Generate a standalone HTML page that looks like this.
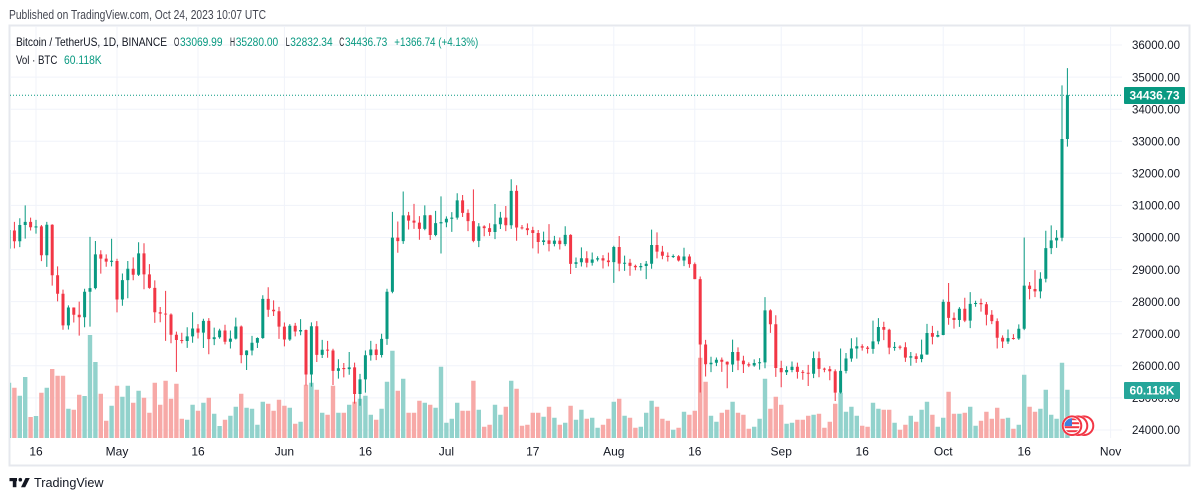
<!DOCTYPE html>
<html><head><meta charset="utf-8"><style>
html,body{margin:0;padding:0;background:#fff;width:1200px;height:501px;overflow:hidden}
svg{display:block}
text{font-family:"Liberation Sans",Arial,sans-serif}
.ws{vector-effect:non-scaling-stroke;fill:none;stroke-width:1}
.bd{vector-effect:non-scaling-stroke;fill:none;stroke-width:3}
.vb{vector-effect:non-scaling-stroke;fill:none;stroke-width:4.4}
</style></head><body>
<svg width="1200" height="501" viewBox="0 0 1200 501" xmlns="http://www.w3.org/2000/svg">
<defs>
<clipPath id="pane"><rect x="10" y="26" width="1112" height="412"/></clipPath>
<clipPath id="fc"><circle cx="1072" cy="425.7" r="7.5"/></clipPath>
</defs>
<rect x="0" y="0" width="1200" height="501" fill="#fff"/>
<text x="9" y="19" font-size="12.5" fill="#434651" textLength="257" lengthAdjust="spacingAndGlyphs">Published on TradingView.com, Oct 24, 2023 10:07 UTC</text>

<!-- frame -->
<rect x="9.5" y="25.5" width="1180" height="440" fill="none" stroke="#e6e8ee" stroke-width="2"/>

<!-- grid -->
<g stroke="#f0f3fa" stroke-width="1">
<line x1="10" x2="1122" y1="45" y2="45"/><line x1="10" x2="1122" y1="77.1" y2="77.1"/><line x1="10" x2="1122" y1="109.2" y2="109.2"/><line x1="10" x2="1122" y1="141.2" y2="141.2"/><line x1="10" x2="1122" y1="173.3" y2="173.3"/><line x1="10" x2="1122" y1="205.4" y2="205.4"/><line x1="10" x2="1122" y1="237.5" y2="237.5"/><line x1="10" x2="1122" y1="269.6" y2="269.6"/><line x1="10" x2="1122" y1="301.6" y2="301.6"/><line x1="10" x2="1122" y1="333.7" y2="333.7"/><line x1="10" x2="1122" y1="365.8" y2="365.8"/><line x1="10" x2="1122" y1="397.9" y2="397.9"/><line x1="10" x2="1122" y1="430" y2="430"/>
<line y1="26" y2="438" x1="36" x2="36"/><line y1="26" y2="438" x1="117" x2="117"/><line y1="26" y2="438" x1="198" x2="198"/><line y1="26" y2="438" x1="284.4" x2="284.4"/><line y1="26" y2="438" x1="365.4" x2="365.4"/><line y1="26" y2="438" x1="446.4" x2="446.4"/><line y1="26" y2="438" x1="532.8" x2="532.8"/><line y1="26" y2="438" x1="613.8" x2="613.8"/><line y1="26" y2="438" x1="694.8" x2="694.8"/><line y1="26" y2="438" x1="781.2" x2="781.2"/><line y1="26" y2="438" x1="862.2" x2="862.2"/><line y1="26" y2="438" x1="943.2" x2="943.2"/><line y1="26" y2="438" x1="1024.2" x2="1024.2"/><line y1="26" y2="438" x1="1110.6" x2="1110.6"/>
</g>

<g clip-path="url(#pane)">
<!-- volume -->
<g transform="matrix(5.4 0 0 1 14.4 0)">
<path class="vb" stroke="#92d2cc" d="M-1 438V382.7M1 438V395.7M2 438V377M4 438V416M6 438V387.7M10 438V408.7M13 438V396M14 438V335M15 438V362M18 438V405.7M20 438V396.7M21 438V385.7M23 438V390.7M32 438V419.7M33 438V404.7M35 438V402.7M37 438V413.7M38 438V426M40 438V415.7M41 438V406.7M43 438V407.7M44 438V408.7M45 438V424.7M46 438V401.7M51 438V407.7M53 438V421.7M55 438V382.7M57 438V412.7M60 438V412.7M62 438V404.7M64 438V398.7M65 438V395.7M66 438V414.7M68 438V408.7M69 438V381.7M70 438V350.7M72 438V378.7M76 438V402.7M78 438V407.7M79 438V366.7M80 438V422.7M81 438V418.7M82 438V402.7M86 438V409.7M89 438V404.7M90 438V414.7M92 438V380.7M98 438V416.7M100 438V417.7M102 438V422.7M104 438V419.7M105 438V409.7M107 438V417.7M108 438V427.7M111 438V401.7M113 438V415.7M116 438V426.7M117 438V412.7M118 438V400.7M122 438V429.7M124 438V411.7M129 438V415.7M130 438V421.7M133 438V401.7M137 438V426.7M138 438V418.7M139 438V378.7M143 438V423.7M144 438V422.7M148 438V414.7M153 438V392.7M154 438V411.7M155 438V406.7M156 438V415.7M159 438V402.7M160 438V408.7M163 438V422.7M166 438V415.7M168 438V409.7M169 438V401.7M171 438V426.7M172 438V417.7M175 438V413.7M177 438V406.7M178 438V425.7M184 438V417.7M186 438V424.7M187 438V374.7M190 438V408.7M191 438V389.7M192 438V414.7M193 438V418.7M194 438V362.7M195 438V389.7"/>
<path class="vb" stroke="#f7a9a7" d="M0 438V387.7M3 438V417M5 438V392.7M7 438V369M8 438V375.7M9 438V375.7M11 438V409.7M12 438V394.7M16 438V393.7M17 438V420.7M19 438V385.7M22 438V402.7M24 438V397.7M25 438V412.7M26 438V382.7M27 438V404.7M28 438V380.7M29 438V398.7M30 438V383.7M31 438V418.7M34 438V410.7M36 438V397.7M39 438V419.7M42 438V393.7M47 438V403.7M48 438V410.7M49 438V399.7M50 438V405.7M52 438V423.7M54 438V384.7M56 438V389.7M58 438V414.7M59 438V385.7M61 438V412.7M63 438V401.7M67 438V419.7M71 438V390.7M73 438V412.7M74 438V412.7M75 438V400.7M77 438V404.7M83 438V410.7M84 438V410.7M85 438V380.7M87 438V426.7M88 438V424.7M91 438V406.7M93 438V388.7M94 438V425.7M95 438V424.7M96 438V412.7M97 438V412.7M99 438V406.7M101 438V424.7M103 438V405.7M106 438V418.7M109 438V424.7M110 438V418.7M112 438V398.7M114 438V417.7M115 438V427.7M119 438V406.7M120 438V418.7M121 438V420.7M123 438V427.7M125 438V414.7M126 438V410.7M127 438V357.7M128 438V381.7M131 438V412.7M132 438V409.7M134 438V412.7M135 438V414.7M136 438V428.7M140 438V408.7M141 438V396.7M142 438V404.7M145 438V419.7M146 438V419.7M147 438V415.7M149 438V413.7M150 438V427.7M151 438V421.7M152 438V403.7M157 438V425.7M158 438V426.7M161 438V409.7M162 438V409.7M164 438V429.7M165 438V424.7M167 438V421.7M170 438V414.7M173 438V391.7M174 438V413.7M176 438V412.7M179 438V420.7M180 438V411.7M181 438V418.7M182 438V407.7M183 438V418.7M185 438V428.7M188 438V406.7M189 438V411.7"/>
</g>

<!-- candles -->
<g transform="matrix(5.4 0 0 -0.03208 14.4 1199.88)">
<path class="ws" stroke="#089981" d="M-1 29610V30509M1 29700V30600M2 29966V31000M4 30120V30548M6 29084V30486M10 27130V27882M13 27200V28400M14 27222V30020M15 28381V29890M18 29100V29960M20 27872V28879M21 28107V29267M23 28800V29850M32 26560V27200M33 26720V27670M35 26555V27465M37 26644V27190M38 26844V27156M40 26540V27099M41 26818V27500M43 25871V26485M44 26326V26932M45 26553V26887M46 26839V28200M51 26777V27300M53 26954V27455M55 25351V27355M57 26244V26810M60 25600V26203M62 25720V26432M64 24756V25750M65 25165V26478M66 26163V26777M68 26260V26999M69 26652V28402M70 28260V30800M72 29800V31432M76 30226V31000M78 30038V30828M79 29500V31282M80 30320V30659M81 30174V30791M82 30555V31380M86 29701V30449M89 29950V31045M90 30266V30800M92 30268V31814M98 29760V30184M100 29721V30049M102 29730V30350M104 29047V29376M105 29096V29690M107 29124V29530M108 29256V29414M111 28585V29744M113 28959V29433M116 28968V29205M117 28701V29267M118 29027V30244M122 29360V29474M124 29109V29681M129 25801V26281M130 25990V26260M133 25805V26814M137 25972V26199M138 25880V26238M139 25922V28142M143 25714V25987M144 25800V26135M148 25615V26444M153 25131V26539M154 25764V26400M155 26126V26860M156 26224V26888M159 26377V27409M160 26672V27488M163 26468V26743M166 26000V26432M168 26111V26817M169 26342V27308M171 26886V27094M172 26954V28065M175 27215V27830M177 27175V28295M178 27842V28029M184 26685V27130M186 26808V27293M187 27112V30000M190 28100V28916M191 28600V30208M192 29481V30379M193 29675V30230M194 29884V34741M195 32832V35280"/>
<path class="bd" stroke="#089981" d="M-1 29653V30235M1 29884V30388M2 30388V30485M4 30310V30345M6 29445V30398M10 27262V27817M13 27515V28307M14 28307V28422M15 28422V29473M18 29240V29275M20 28068V28669M21 28669V29026M23 28838V29506M32 26775V26918M33 26918V27163M35 27034V27399M37 26833V26890M38 26890V27102M40 26748V26849M41 26849V27225M43 26334V26476M44 26476V26719M45 26719V26868M46 26868V28085M51 26819V27249M53 27069V27116M55 25728V27231M57 26340V26499M60 25842V25922M62 25897V25950M64 25119V25576M65 25576V26328M66 26328V26510M68 26336V26841M69 26841V28308M70 28308V29994M72 29885V30688M76 30267V30692M78 30077V30446M79 30440V30478M80 30472V30585M81 30585V30617M82 30617V31156M86 29896V30346M89 30171V30414M90 30414V30620M92 30381V31454M98 29859V29909M100 29800V29901M102 29794V30083M104 29176V29228M105 29228V29353M107 29212V29314M108 29314V29352M111 29232V29705M113 29180V29212M116 29072V29110M117 29110V29180M118 29180V29765M122 29390V29422M124 29283V29409M129 26049V26096M130 26096V26189M133 26040V26431M137 26008V26089M138 26080V26112M139 26106V27727M143 25800V25869M144 25869V25969M148 25753V26240M153 25163V25840M154 25840V26228M155 26228V26539M156 26539V26609M159 26527V26762M160 26762V27210M163 26558V26590M166 26256V26299M168 26211V26353M169 26353V27022M171 26907V26962M172 26962V27993M175 27426V27778M177 27410V27931M178 27925V27958M184 26759V26862M186 26852V27154M187 27154V28500M190 28320V28713M191 28713V29669M192 29669V29910M193 29910V29992M194 29992V33069M195 33070V34436"/>
<path class="ws" stroke="#f23645" d="M0 29660V30486M3 30216V30620M5 29261V30390M7 28500V30412M8 28010V29100M9 27125V28374M11 27350V27820M12 26942V28000M16 28875V29600M17 29088V29474M19 27667V29338M22 28666V29379M24 28385V29820M25 28400V29170M26 27337V28664M27 27358V27833M28 26777V28336M29 26702V27634M30 25811V27065M31 26700V27030M34 26852V27299M36 26361V27487M39 26666V27280M42 26080V27257M47 27524V28447M48 27554V28040M49 26841V27835M50 26605V27350M52 26916V27340M54 25388V27132M56 26119V27392M58 26250V26777M59 25400V26530M61 25640V26087M63 24820V26100M67 26175V26684M71 29525V30500M73 30250V30800M74 30270V31046M75 29930V30666M77 29920V30703M83 30640V31325M84 30200V30878M85 29850V31500M87 30038V30380M88 30050V30445M91 30200V30983M93 29900V31630M94 30250V30390M95 30074V30441M96 29659V30336M97 29500V30233M99 29565V30417M101 29625V29999M103 28861V30100M106 29069V29569M109 29033V29449M110 29101V29529M112 28946V30047M114 28806V29333M115 28978V29152M119 29350V30160M120 29320V29738M121 29253V29534M123 29250V29450M125 29056V29479M126 28701V29221M127 25166V28783M128 25668V26808M131 25812V26258M132 25300V26139M134 25864V26576M135 25777V26314M136 25960V26107M140 27026V27760M141 25655V27575M142 25333V26156M145 25600V26100M146 25565V25868M147 25370V26030M149 25644V26442M150 25800V25945M151 25550V25988M152 24901V25890M157 26473V26670M158 26385V26619M161 26800V27375M162 26361V27155M164 26509V26639M165 26122V26735M167 26090V26387M170 26666V27244M173 27279V28580M174 27160V27663M176 27360V28120M179 27687V28095M180 27260V27987M181 27298V27735M182 26538V27480M183 26555V26947M185 26814V26989M188 28069V28613M189 28140V28982"/>
<path class="bd" stroke="#f23645" d="M0 30216V29884M3 30485V30318M5 30345V29445M7 30398V28822M8 28822V28245M9 28245V27262M11 27817V27592M12 27592V27515M16 29473V29340M17 29340V29248M19 29268V28068M22 29026V28838M24 29506V28848M25 28848V28431M26 28431V27668M27 27668V27628M28 27628V27598M29 27598V26969M30 26969V26805M31 26805V26775M34 27163V27034M36 27399V26833M39 27102V26748M42 27225V26334M47 28085V27746M48 27746V27702M49 27702V27220M50 27220V26819M52 27249V27069M54 27116V25728M56 27231V26340M58 26505V26472M59 26477V25842M61 25930V25897M63 25950V25119M67 26510V26336M71 29994V29885M73 30688V30527M74 30527V30462M75 30462V30267M77 30692V30077M83 31156V30767M84 30767V30508M85 30508V29896M87 30346V30292M88 30292V30171M91 30620V30381M93 31454V30312M94 30315V30283M95 30289V30231M96 30231V30138M97 30138V29859M99 29909V29800M101 29901V29794M103 30083V29176M106 29353V29212M109 29352V29281M110 29281V29232M112 29705V29186M114 29212V29114M115 29114V29072M119 29765V29561M120 29561V29429M121 29429V29397M123 29415V29283M125 29409V29170M126 29170V28702M127 28702V26664M128 26664V26049M131 26189V26125M132 26125V26040M134 26431V26163M135 26163V26049M136 26049V26008M140 27727V27297M141 27297V25931M142 25931V25800M145 25969V25812M146 25812V25779M147 25785V25752M149 26240V25906M150 25912V25880M151 25895V25832M152 25832V25163M157 26609V26568M158 26568V26527M161 27210V27125M162 27125V26568M164 26596V26564M165 26579V26256M167 26299V26211M170 27022V26907M173 27993V27494M174 27494V27426M176 27778V27410M179 27956V27917M180 27917V27590M181 27590V27392M182 27392V26875M183 26875V26759M185 26868V26836M188 28500V28395M189 28395V28320"/>
</g>

<!-- last price line -->
<line x1="10" x2="1122" y1="95.2" y2="95.2" stroke="#089981" stroke-width="1" stroke-dasharray="1 2"/>

<!-- events -->
<g>
<circle cx="1084" cy="425.7" r="10.5" fill="#fff"/>
<circle cx="1084" cy="425.7" r="9.3" fill="#fff" stroke="#f23645" stroke-width="2"/>
<circle cx="1078" cy="425.7" r="10.5" fill="#fff"/>
<circle cx="1078" cy="425.7" r="9.3" fill="#fff" stroke="#f23645" stroke-width="2"/>
<circle cx="1072" cy="425.7" r="10.5" fill="#fff"/>
<circle cx="1072" cy="425.7" r="9.3" fill="#fff" stroke="#f23645" stroke-width="2"/>
<g clip-path="url(#fc)">
<rect x="1064" y="418" width="16" height="16" fill="#fff"/>
<rect x="1064" y="418.2" width="16" height="2" fill="#f23645"/>
<rect x="1064" y="422.2" width="16" height="2" fill="#f23645"/>
<rect x="1064" y="426.2" width="16" height="2" fill="#f23645"/>
<rect x="1064" y="430.2" width="16" height="2" fill="#f23645"/>
<rect x="1064" y="418" width="8" height="8" fill="#3d7fe0"/>
</g>
</g>
</g>

<!-- legend -->
<g font-size="12">
<text x="16" y="46" fill="#131722" textLength="151" lengthAdjust="spacingAndGlyphs">Bitcoin / TetherUS, 1D, BINANCE</text>
<text x="174" y="46" fill="#131722" textLength="5.3" lengthAdjust="spacingAndGlyphs">O</text>
<text x="180" y="46" fill="#089981" textLength="42.5" lengthAdjust="spacingAndGlyphs">33069.99</text>
<text x="230" y="46" fill="#131722" textLength="5" lengthAdjust="spacingAndGlyphs">H</text>
<text x="235.7" y="46" fill="#089981" textLength="42.5" lengthAdjust="spacingAndGlyphs">35280.00</text>
<text x="285.7" y="46" fill="#131722" textLength="4" lengthAdjust="spacingAndGlyphs">L</text>
<text x="290.3" y="46" fill="#089981" textLength="42.3" lengthAdjust="spacingAndGlyphs">32832.34</text>
<text x="339.3" y="46" fill="#131722" textLength="5" lengthAdjust="spacingAndGlyphs">C</text>
<text x="345" y="46" fill="#089981" textLength="42.3" lengthAdjust="spacingAndGlyphs">34436.73</text>
<text x="394.3" y="46" fill="#089981" textLength="84" lengthAdjust="spacingAndGlyphs">+1366.74 (+4.13%)</text>
<text x="16" y="64" fill="#131722" textLength="41.3" lengthAdjust="spacingAndGlyphs">Vol · BTC</text>
<text x="64" y="64" fill="#089981" textLength="37.7" lengthAdjust="spacingAndGlyphs">60.118K</text>
</g>

<!-- price axis -->
<g font-size="11.5" fill="#131722">
<text x="1132" y="49.2" textLength="48" lengthAdjust="spacingAndGlyphs">36000.00</text>
<text x="1132" y="81.3" textLength="48" lengthAdjust="spacingAndGlyphs">35000.00</text>
<text x="1132" y="113.4" textLength="48" lengthAdjust="spacingAndGlyphs">34000.00</text>
<text x="1132" y="145.4" textLength="48" lengthAdjust="spacingAndGlyphs">33000.00</text>
<text x="1132" y="177.5" textLength="48" lengthAdjust="spacingAndGlyphs">32000.00</text>
<text x="1132" y="209.6" textLength="48" lengthAdjust="spacingAndGlyphs">31000.00</text>
<text x="1132" y="241.7" textLength="48" lengthAdjust="spacingAndGlyphs">30000.00</text>
<text x="1132" y="273.8" textLength="48" lengthAdjust="spacingAndGlyphs">29000.00</text>
<text x="1132" y="305.8" textLength="48" lengthAdjust="spacingAndGlyphs">28000.00</text>
<text x="1132" y="337.9" textLength="48" lengthAdjust="spacingAndGlyphs">27000.00</text>
<text x="1132" y="370" textLength="48" lengthAdjust="spacingAndGlyphs">26000.00</text>
<text x="1132" y="402.1" textLength="48" lengthAdjust="spacingAndGlyphs">25000.00</text>
<text x="1132" y="434.2" textLength="48" lengthAdjust="spacingAndGlyphs">24000.00</text>
</g>
<rect x="1124" y="87" width="61" height="17" rx="1" fill="#089981"/>
<text x="1129.5" y="99.7" font-size="11.5" font-weight="bold" fill="#fff" textLength="50" lengthAdjust="spacingAndGlyphs">34436.73</text>
<rect x="1124" y="382" width="56" height="17" rx="1" fill="#26a69a"/>
<text x="1129.5" y="394.7" font-size="11.5" font-weight="bold" fill="#fff" textLength="45" lengthAdjust="spacingAndGlyphs">60.118K</text>

<!-- time axis -->
<g font-size="12" fill="#131722" text-anchor="middle">
<text x="36" y="455.5">16</text>
<text x="117" y="455.5">May</text>
<text x="198" y="455.5">16</text>
<text x="284.4" y="455.5">Jun</text>
<text x="365.4" y="455.5">16</text>
<text x="446.4" y="455.5">Jul</text>
<text x="532.8" y="455.5">17</text>
<text x="613.8" y="455.5">Aug</text>
<text x="694.8" y="455.5">16</text>
<text x="781.2" y="455.5">Sep</text>
<text x="862.2" y="455.5">16</text>
<text x="943.2" y="455.5">Oct</text>
<text x="1024.2" y="455.5">16</text>
<text x="1110.6" y="455.5">Nov</text>
</g>

<!-- footer logo -->
<g fill="#131722">
<rect x="9.5" y="478" width="7.5" height="3.2"/>
<rect x="12.8" y="478" width="3.6" height="9.2"/>
<circle cx="20.3" cy="479.7" r="1.8"/>
<polygon points="25.5,478 29.8,478 25.2,487.2 21,487.2"/>
</g>
<text x="34" y="487" font-size="13" fill="#131722" textLength="69.5" lengthAdjust="spacingAndGlyphs">TradingView</text>
</svg>
</body></html>
